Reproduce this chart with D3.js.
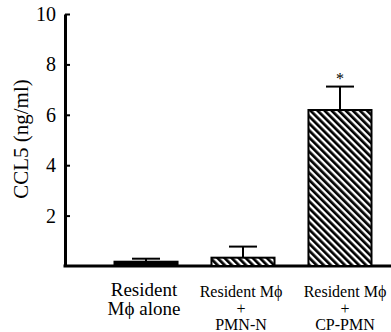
<!DOCTYPE html>
<html>
<head>
<meta charset="utf-8">
<script src="https://cdn.jsdelivr.net/npm/d3@7"></script>
<style>
  body { margin: 0; background: #fff; }
  svg { display: block; }
</style>
</head>
<body>
<svg id="chart" width="391" height="332" font-family="Liberation Serif"></svg>
<script>
// datos del grafico
const categories = ["alone", "PMN-N", "CP-PMN"];
const labelLines = [["Resident", "M\u03D5 alone"], ["Resident M\u03D5", "+", "PMN-N"], ["Resident M\u03D5", "+", "CP-PMN"]];
const means = [0.17, 0.33, 6.19];
const errors = [0.12, 0.44, 0.93];
const patterns = ["solid", "hatch", "hatch"];
const marks = ["", "", "*"];
const yTicks = [2, 4, 6, 8, 10];

const FONT = "Liberation Serif";
const svg = d3.select("#chart");

// patron de rayas diagonales
const defs = svg.append("defs");
const pat = defs.append("pattern")
  .attr("id", "hatch")
  .attr("patternUnits", "userSpaceOnUse")
  .attr("width", 5)
  .attr("height", 5)
  .attr("patternTransform", "rotate(-45)");
pat.append("rect").attr("width", 5).attr("height", 5).attr("fill", "#fff");
pat.append("rect").attr("width", 2.7).attr("height", 5).attr("fill", "#000");

const x = d3.scaleBand()
  .domain(categories)
  .range([114.5, 371.5])
  .paddingInner(0.35)
  .paddingOuter(0);

const y = d3.scaleLinear()
  .domain([0, 10])
  .range([266, 14]);

const axisX = 65;

// eje y
const yAxis = svg.append("g")
  .attr("transform", `translate(${axisX},0)`)
  .call(d3.axisLeft(y)
    .tickValues(yTicks)
    .tickFormat(d3.format("d"))
    .tickSizeInner(-5)
    .tickSizeOuter(0)
    .tickPadding(9));
yAxis.attr("font-family", FONT).attr("font-size", 20);
yAxis.select(".domain").attr("stroke-width", 3);
yAxis.selectAll(".tick line").attr("stroke-width", 2);
yAxis.selectAll(".tick text").attr("fill", "#000");

// eje x
svg.append("line")
  .attr("x1", axisX - 1.5).attr("x2", 391)
  .attr("y1", y(0)).attr("y2", y(0))
  .attr("stroke", "#000").attr("stroke-width", 3);

// titulo y
svg.append("text")
  .attr("transform", `translate(28,${y(5) - 1}) rotate(-90)`)
  .attr("text-anchor", "middle")
  .attr("font-family", FONT)
  .attr("font-size", 21)
  .text("CCL5 (ng/ml)");

// barras
const bars = svg.append("g");
bars.selectAll("rect")
  .data(means)
  .enter()
  .append("rect")
  .attr("x", (d, i) => x(categories[i]))
  .attr("width", x.bandwidth())
  .attr("y", d => y(d))
  .attr("height", d => y(0) - y(d))
  .attr("fill", (d, i) => patterns[i] === "solid" ? "#000" : "url(#hatch)")
  .attr("stroke", "#000")
  .attr("stroke-width", 2);

// barras de error
const capW = 28;
means.forEach((m, i) => {
  const cx = x(categories[i]) + x.bandwidth() / 2;
  const top = y(m + errors[i]);
  svg.append("line")
    .attr("x1", cx).attr("x2", cx)
    .attr("y1", y(m)).attr("y2", top)
    .attr("stroke", "#000").attr("stroke-width", 2);
  svg.append("line")
    .attr("x1", cx - capW / 2).attr("x2", cx + capW / 2)
    .attr("y1", top).attr("y2", top)
    .attr("stroke", "#000").attr("stroke-width", 2);
  if (marks[i]) {
    svg.append("text")
      .attr("x", cx).attr("y", top - 3)
      .attr("text-anchor", "middle")
      .attr("font-family", FONT)
      .attr("font-size", 16)
      .text(marks[i]);
  }
});

// etiquetas de categorias
const labelSize = [19, 16, 16];
const labelBase = [[296, 315], [297, 314, 330], [297, 314, 330]];
labelLines.forEach((lines, i) => {
  const cx = x(categories[i]) + x.bandwidth() / 2;
  const t = svg.append("text")
    .attr("text-anchor", "middle")
    .attr("font-family", FONT)
    .attr("font-size", labelSize[i]);
  lines.forEach((s, j) => {
    t.append("tspan")
      .attr("x", cx + (i === 2 ? 5 : -2))
      .attr("y", labelBase[i][j])
      .text(s);
  });
});
</script>
</body>
</html>
